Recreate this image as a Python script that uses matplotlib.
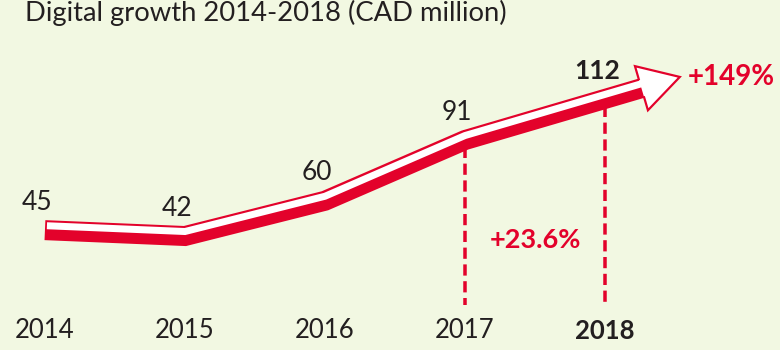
import numpy as np
import matplotlib
matplotlib.use("Agg")
import matplotlib.pyplot as plt
from matplotlib import transforms
from matplotlib.patches import Polygon
from matplotlib.lines import Line2D

years = [2014, 2015, 2016, 2017, 2018]
values = [45, 42, 60, 91, 112]
year_labels = ["2014", "2015", "2016", "2017", "2018"]
growth_total = "+149%"
growth_last = "+23.6%"
title = "Digital growth 2014-2018 (CAD million)"

BG = "#F2F8E2"
RED = "#E3022B"
INK = "#231F20"
FONT = "Lato"

W, H = 780, 350
fig = plt.figure(figsize=(W / 100, H / 100), dpi=100, facecolor=BG)
ax = fig.add_axes([0, 0, 1, 1])
ax.set_facecolor(BG)
ax.axis("off")
ax.set_xlim(2013.679, 2019.25)
ax.set_ylim(-21.3, 157.4)

def px(n):
    """pixels -> points"""
    return n * 72 / fig.dpi

def shifted(dy_px):
    return transforms.offset_copy(ax.transData, fig=fig, x=0, y=dy_px, units="dots")

to_disp = ax.transData.transform
to_data = ax.transData.inverted().transform

# extend the ribbon beyond the last year into the arrow head
p_prev = to_disp((years[-2], values[-2]))
p_last = to_disp((years[-1], values[-1]))
d = (p_last - p_prev) / np.hypot(*(p_last - p_prev))
nrm = np.array([-d[1], d[0]])
ext = to_data(p_last + 46 * d)
rx = list(years) + [ext[0]]
ry = list(values) + [ext[1]]

# white band starts a touch later so the red edge shows at the left end
p0 = to_disp((years[0], values[0]))
p1 = to_disp((years[1], values[1]))
d0 = (p1 - p0) / np.hypot(*(p1 - p0))
ws = to_data(p0 + 2 * d0)
wx = [ws[0]] + rx[1:]
wy = [ws[1]] + ry[1:]

# dashed guides for 2017 and 2018
bottom_val = to_data((0, 45))[1]
for yr, v in zip(years[-2:], values[-2:]):
    ax.plot([yr, yr], [v, bottom_val], color=RED, lw=px(3.5),
            linestyle=(0, (3.2, 1.6)), solid_capstyle="butt",
            dash_capstyle="butt", zorder=1)

# ribbon: thick red body with a white band on top
ax.plot(rx, ry, color=RED, lw=px(20), solid_capstyle="butt",
        solid_joinstyle="miter", transform=shifted(-10), zorder=2)
ax.plot(wx, wy, color="white", lw=px(7), solid_capstyle="butt",
        solid_joinstyle="miter", transform=shifted(-5.5), zorder=3)

# arrow head
c = p_last + np.array([0, -10])
b = c + 38 * d
tip = b + 40 * d
c1 = b + 23 * nrm
c2 = b - 23 * nrm
head = Polygon([c1, tip, c2], closed=True, facecolor="white", edgecolor="none",
               transform=transforms.IdentityTransform(), zorder=4)
ax.add_patch(head)
edge = np.array([b + 9.5 * nrm, c1, tip, c2, b - 9.5 * nrm])
ax.add_line(Line2D(edge[:, 0], edge[:, 1], color=RED, lw=px(2.2),
                   solid_joinstyle="miter", transform=transforms.IdentityTransform(),
                   zorder=5))

# value labels
for i, (yr, v) in enumerate(zip(years, values)):
    last = i == len(years) - 1
    ax.annotate(str(v), (yr, v), xytext=(px(-8), px(18)), textcoords="offset points",
                ha="center", va="center", fontsize=19, color=INK,
                fontweight="bold" if last else "normal", family=FONT, zorder=6)

# year labels
bt = transforms.blended_transform_factory(ax.transData, ax.transAxes)
for i, (yr, lab) in enumerate(zip(years, year_labels)):
    last = i == len(years) - 1
    ax.text(yr, 1 - 331 / H, lab, transform=bt, ha="center", va="center",
            fontsize=18.5, color=INK, fontweight="bold" if last else "normal",
            family=FONT)

# growth annotations
ax.text((years[-2] + years[-1]) / 2, 1 - 240 / H, growth_last, transform=bt,
        ha="center", va="center", fontsize=19.5, color=RED, fontweight="bold",
        family=FONT)
tx, ty = to_data(tip + np.array([8, 0]))
ax.text(tx, ty, growth_total, ha="left", va="center", fontsize=20, color=RED,
        fontweight="bold", family=FONT)

fig.text(25 / W, 1 - 21 / H, title, ha="left", va="baseline", fontsize=19.7,
         color=INK, family=FONT)

fig.savefig("out.png", dpi=100, facecolor=BG)
